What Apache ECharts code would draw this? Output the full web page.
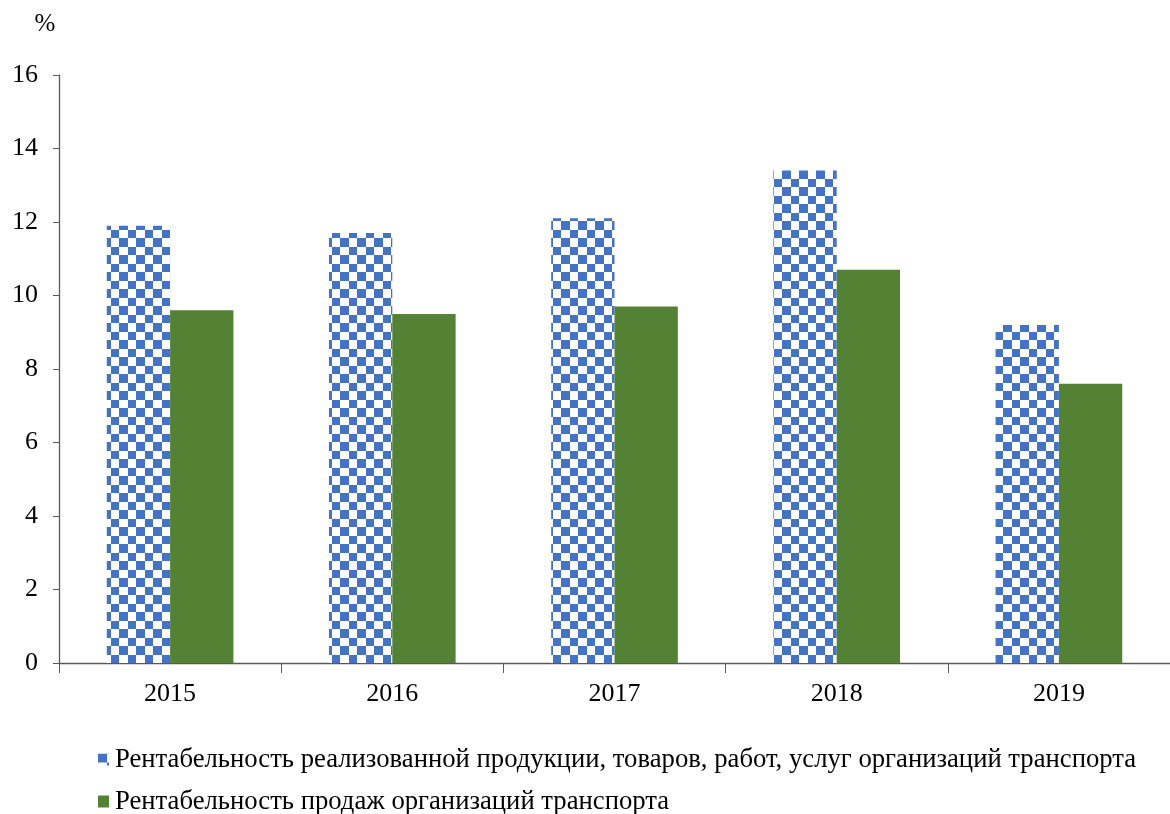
<!DOCTYPE html>
<html><head><meta charset="utf-8">
<script src="https://cdn.jsdelivr.net/npm/echarts@6/dist/echarts.min.js"></script>
<style>html,body{margin:0;padding:0;background:#fff}#c{width:1170px;height:814px}</style>
</head><body><div id="c"></div>
<script>
const categories = ['2015','2016','2017','2018','2019'];
const seriesNames = ['Рентабельность реализованной продукции, товаров, работ, услуг организаций транспорта','Рентабельность продаж организаций транспорта'];
const valuesA = [11.9, 11.7, 12.1, 13.4, 9.2];
const valuesB = [9.6, 9.5, 9.7, 10.7, 7.6];

const cv = document.createElement('canvas');
cv.width = 17; cv.height = 17;
const cx = cv.getContext('2d');
cx.fillStyle = '#ffffff'; cx.fillRect(0,0,17,17);
cx.fillStyle = '#4472C4';
cx.fillRect(0,0,9,9); cx.fillRect(9,9,8,8);

const font = "'Liberation Serif', 'Times New Roman', serif";
const legendText = {fontFamily:font, fontSize:26.7, color:'#000', padding:[0,0,0,1]};
const chart = echarts.init(document.getElementById('c'), null, {renderer:'canvas'});
chart.setOption({
  animation:false,
  grid:{left:59, top:75, width:1120, height:588, containLabel:false},
  legend:[
    {data:[seriesNames[0]], left:98, top:746, padding:0, itemWidth:11, itemHeight:12, itemGap:0, icon:'rect', textStyle:legendText},
    {data:[seriesNames[1]], left:98, top:788, padding:0, itemWidth:11, itemHeight:12, itemGap:0, icon:'rect', textStyle:legendText}
  ],
  xAxis:{type:'category', data:categories,
    axisLine:{lineStyle:{color:'#595959', width:1.3}},
    axisTick:{show:true, length:10, lineStyle:{color:'#595959'}},
    axisLabel:{fontFamily:font, fontSize:26, color:'#000', margin:18}},
  yAxis:{type:'value', min:0, max:16, interval:2, name:'%', nameLocation:'end', nameGap:38,
    nameTextStyle:{fontFamily:font, fontSize:25, color:'#000', align:'center', padding:[0,0,0,-28]},
    axisLine:{show:true, lineStyle:{color:'#595959', width:1.3}},
    axisTick:{show:true, length:6, lineStyle:{color:'#595959'}},
    splitLine:{show:false},
    axisLabel:{fontFamily:font, fontSize:26, color:'#000', margin:21}},
  series:[
    {name:seriesNames[0], type:'bar', data:valuesA, barGap:'0%', barCategoryGap:'43%',
      itemStyle:{color:{image:cv, repeat:'repeat'}}},
    {name:seriesNames[1], type:'bar', data:valuesB, itemStyle:{color:'#548235'}}
  ]
});
</script></body></html>
